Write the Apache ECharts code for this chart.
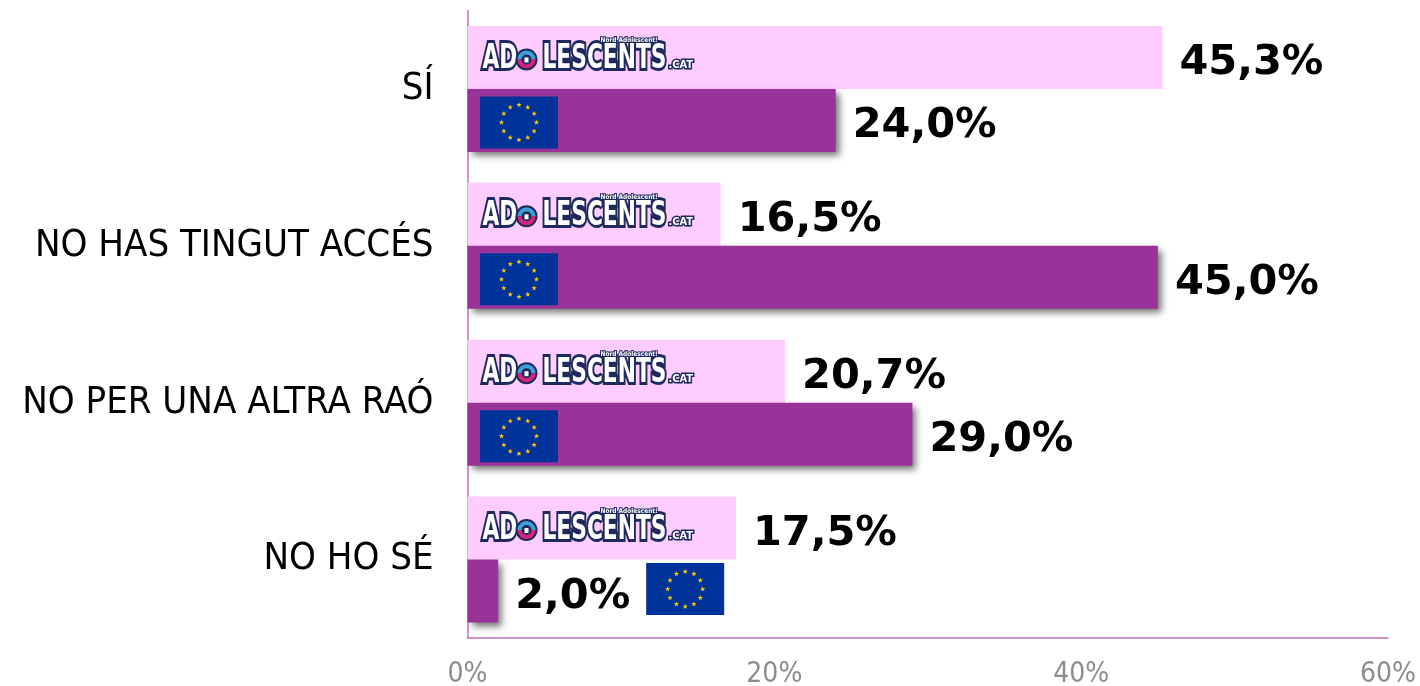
<!DOCTYPE html>
<html><head><meta charset="utf-8">
<style>html,body{margin:0;padding:0;background:#fff}#c{width:1420px;height:686px}</style>
<script src="https://cdn.jsdelivr.net/npm/echarts@6/dist/echarts.min.js"></script>
</head><body><div id="c"></div>
<script>
const categories = ['SÍ', 'NO HAS TINGUT ACCÉS', 'NO PER UNA ALTRA RAÓ', 'NO HO SÉ'];
const adolescents = [45.3, 16.5, 20.7, 17.5];
const europe = [24.0, 45.0, 29.0, 2.0];
const xTicks = [0, 20, 40, 60];

const chart = echarts.init(document.getElementById('c'), null, {renderer: 'canvas'});
const labelFmt = p => p.value.toFixed(1).replace('.', ',') + '%';
const barLabel = {show: true, position: 'right', distance: 17, offset: [0, 6], formatter: labelFmt,
  fontFamily: 'DejaVu Sans', fontWeight: 'bold', fontSize: 41.5, color: '#000'};

function star(cx, cy, r) {
  const pts = [];
  for (let i = 0; i < 10; i++) {
    const a = -Math.PI / 2 + i * Math.PI / 5, q = i % 2 ? r * 0.4 : r;
    pts.push([cx + q * Math.cos(a), cy + q * Math.sin(a)]);
  }
  return {type: 'polygon', shape: {points: pts}, style: {fill: '#FFCC00'}};
}
// The flag sits inside a long bar; on a very short bar it moves past the value label.
function renderFlag(params, api) {
  const v = api.value(0);
  const p = api.coord([v, api.value(1)]);
  const start = api.coord([0, api.value(1)]);
  const outside = v < 10;
  const x = outside ? p[0] + 148 : start[0] + 12.5;
  const cy = p[1] + 31.5 + (outside ? -2 : 2), w = 78, h = 52, y = cy - h / 2;
  const kids = [{type: 'rect', shape: {x, y, width: w, height: h}, style: {fill: '#003399'}}];
  for (let i = 0; i < 12; i++) {
    const a = i * Math.PI / 6;
    kids.push(star(x + w / 2 + 17.5 * Math.sin(a), cy - 17.5 * Math.cos(a), 2.8));
  }
  return {type: 'group', children: kids};
}
function renderLogo(params, api) {
  const p = api.coord([0, api.value(0)]);
  const x = p[0] + 13, base = p[1] - 31.5;
  const navy = '#1f2a5c';
  const font = 'bold 34px "DejaVu Sans"';
  const ts = (text, tx, ty, f, lw, sx) => ({type: 'text', x: tx, y: ty, scaleX: sx, scaleY: 1,
    style: {text, x: 0, y: 0, font: f, fill: '#fff', stroke: navy, lineWidth: lw,
      lineJoin: 'round', textVerticalAlign: 'middle', textAlign: 'left'}});
  const oc = x + 46, oy = base + 2;
  return {type: 'group', children: [
    ts('AD', x + 2, oy, font, 6, 0.64),
    ts('LESCENTS', x + 62, oy, font, 6, 0.64),
    {type: 'circle', shape: {cx: oc, cy: oy, r: 11}, style: {fill: navy}},
    {type: 'arc', shape: {cx: oc, cy: oy, r: 7, startAngle: Math.PI, endAngle: 0, clockwise: true},
      style: {stroke: '#3f9fd8', fill: null, lineWidth: 4}},
    {type: 'arc', shape: {cx: oc, cy: oy, r: 7, startAngle: 0, endAngle: Math.PI, clockwise: true},
      style: {stroke: '#d6247c', fill: null, lineWidth: 4}},
    {type: 'rect', shape: {x: oc - 2, y: oy - 2, width: 4, height: 5}, style: {fill: '#fff'}},
    ts('.CAT', x + 188, base + 8, 'bold 11px "DejaVu Sans Condensed"', 3, 1),
    ts('Nord Adolescent!', x + 120, base - 17, 'bold 6.5px "DejaVu Sans Condensed"', 2, 1)
  ]};
}

const axisStroke = {color: '#BC70BC', width: 1.5};
chart.setOption({
  animation: false,
  backgroundColor: '#fff',
  grid: {left: 467.5, right: 32, top: 10.5, bottom: 48, outerBoundsMode: 'none'},
  xAxis: {type: 'value', min: xTicks[0], max: xTicks[3], interval: 20,
    axisLine: {show: true, lineStyle: axisStroke},
    axisTick: {show: false}, splitLine: {show: false},
    axisLabel: {formatter: '{value}%', color: '#8c8c8c', fontSize: 28, margin: 23,
      fontFamily: 'DejaVu Sans Condensed'}},
  yAxis: {type: 'category', data: categories, inverse: true,
    axisLine: {show: true, lineStyle: axisStroke},
    axisTick: {show: false},
    axisLabel: {color: '#000', fontSize: 38, margin: 34, padding: [14, 0, 0, 0],
      fontFamily: 'DejaVu Sans Condensed'}},
  series: [
    {name: 'Adolescents.cat', type: 'bar', data: adolescents, barWidth: 63, barGap: '0%',
      itemStyle: {color: '#FFCCFF'}, label: barLabel, z: 2},
    {name: 'Europa', type: 'bar', data: europe, barWidth: 63, barGap: '0%',
      itemStyle: {color: '#993399', shadowColor: 'rgba(0,0,0,0.55)', shadowBlur: 7, shadowOffsetX: 4, shadowOffsetY: 4},
      label: barLabel, z: 3},
    {type: 'custom', renderItem: renderFlag, coordinateSystem: 'cartesian2d', silent: true, z: 5,
      encode: {x: 0, y: 1}, clip: false, data: europe.map((v, i) => [v, i])},
    {type: 'custom', renderItem: renderLogo, coordinateSystem: 'cartesian2d', silent: true, z: 5,
      encode: {y: 0}, clip: false, data: categories.map((c, i) => [i])}
  ]
});
</script></body></html>
